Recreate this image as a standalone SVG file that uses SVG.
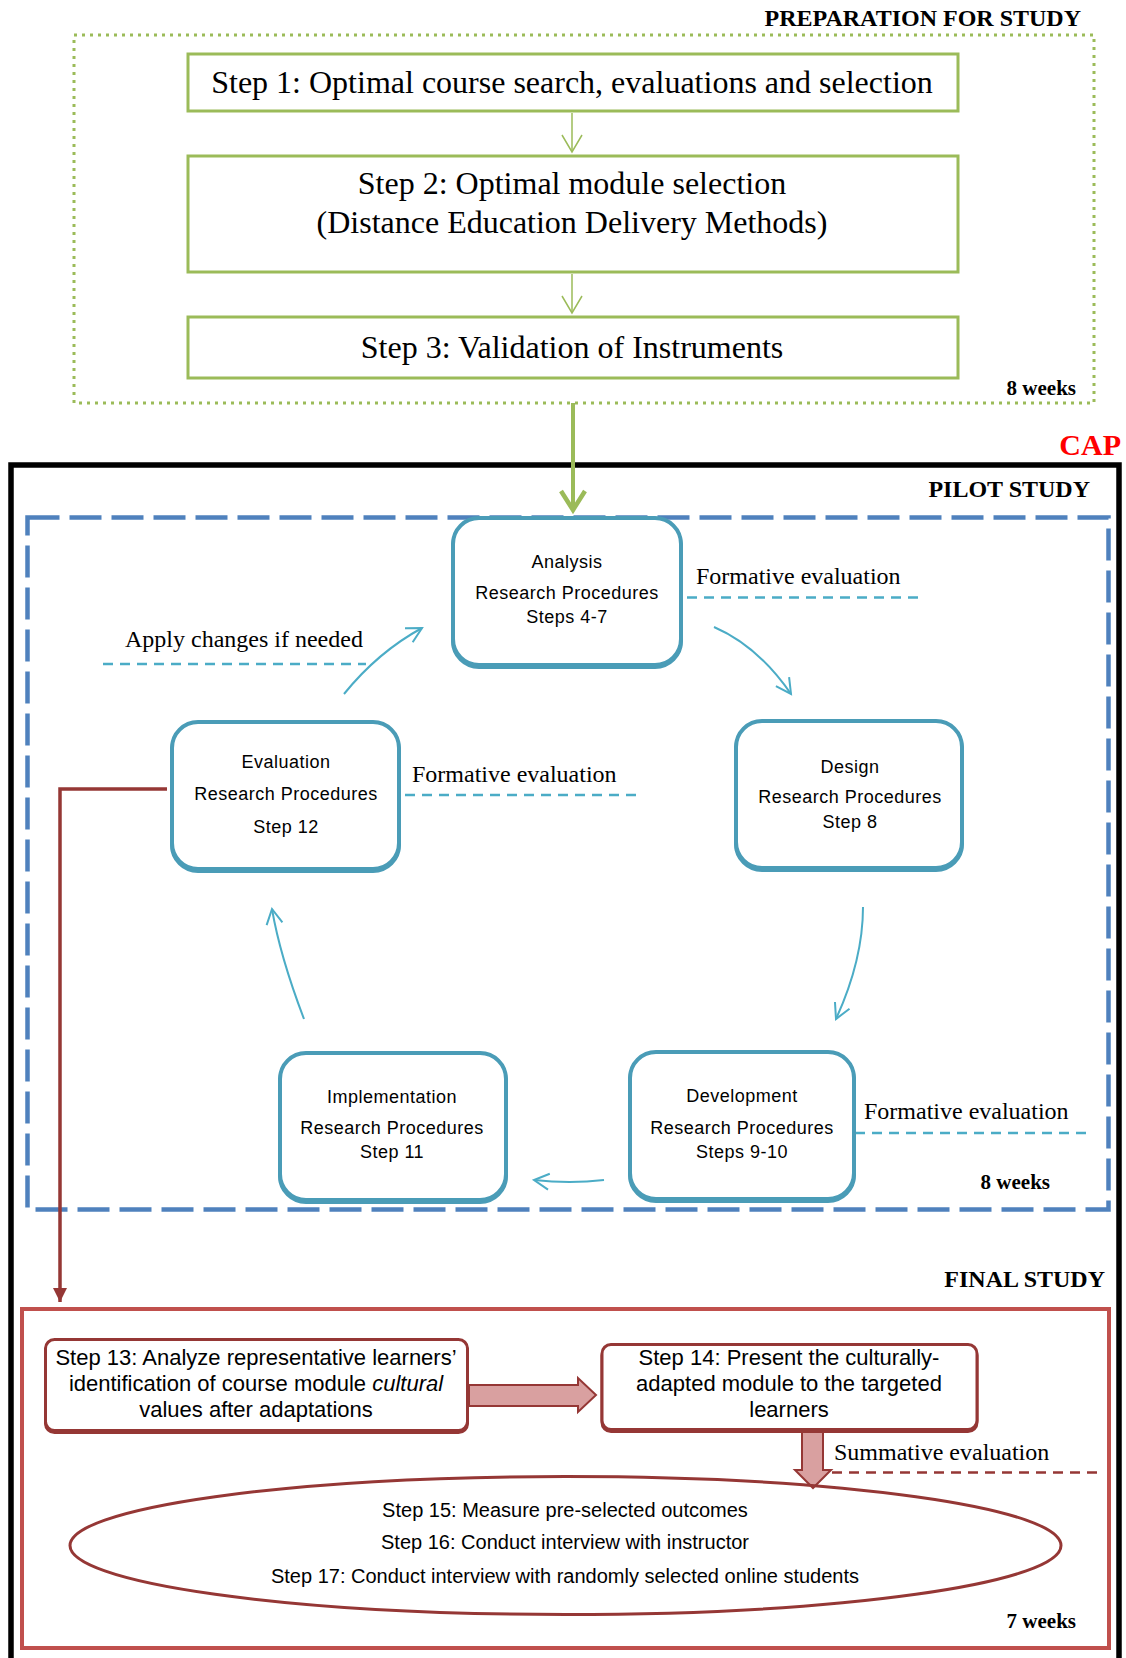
<svg xmlns="http://www.w3.org/2000/svg" width="1126" height="1658" viewBox="0 0 1126 1658">
  <style>
    .serif { font-family: "Liberation Serif", "Times New Roman", serif; fill: #000; }
    .bold { font-weight: bold; }
    .step { font-size: 32px; text-anchor: middle; }
    .note { font-size: 24px; }
    .hdr { font-size: 24px; font-weight: bold; text-anchor: end; }
    .weeks { font-size: 21px; font-weight: bold; text-anchor: end; }
    .sans { font-family: "Liberation Sans", Arial, sans-serif; fill: #000; text-anchor: middle; }
    .lbl { font-size: 18px; letter-spacing: 0.5px; }
    .fin { font-size: 22px; }
    .ell { font-size: 20px; }
    .gbox { fill: #fff; stroke: #9BBB59; stroke-width: 3; }
    .node { fill: #fff; stroke: #4A9CB7; stroke-width: 4; }
    .node-sh { fill: none; stroke: #4A9CB7; stroke-width: 4; }
    .rbox { fill: #fff; stroke: #953735; stroke-width: 3; }
    .rbox-sh { fill: none; stroke: #953735; stroke-width: 3; }
    .flow { fill: none; stroke: #4BACC6; stroke-width: 2; marker-end: url(#tealHead); }
    .tdash { fill: none; stroke: #4BACC6; stroke-width: 2.5; stroke-dasharray: 10 7; }
    .rdash { fill: none; stroke: #953735; stroke-width: 2.5; stroke-dasharray: 10 7; }
    .block { fill: #D9A0A0; stroke: #953735; stroke-width: 2; stroke-linejoin: miter; }
  </style>
  <defs>
    <marker id="greenThin" markerUnits="userSpaceOnUse" orient="auto" refX="0" refY="0" markerWidth="40" markerHeight="40" overflow="visible">
      <path d="M-17,-10 L0,0 L-17,10" fill="none" stroke="#9BBB59" stroke-width="1.5"/>
    </marker>
    <marker id="greenBig" markerUnits="userSpaceOnUse" orient="auto" refX="0" refY="0" markerWidth="40" markerHeight="40" overflow="visible">
      <path d="M-20,-12 L-1,0 L-20,12" fill="none" stroke="#9BBB59" stroke-width="4.5"/>
    </marker>
    <marker id="tealHead" markerUnits="userSpaceOnUse" orient="auto" refX="0" refY="0" markerWidth="40" markerHeight="40" overflow="visible">
      <path d="M-15,-8 L0,0 L-15,8" fill="none" stroke="#4BACC6" stroke-width="2"/>
    </marker>
    <marker id="redHead" markerUnits="userSpaceOnUse" orient="auto" refX="0" refY="0" markerWidth="40" markerHeight="40" overflow="visible">
      <path d="M-14,-7 L0,0 L-14,7 Z" fill="#953735"/>
    </marker>
  </defs>

  <rect width="1126" height="1658" fill="#fff"/>

  <!-- Frames and section headings -->
  <g id="frames">
    <rect x="74" y="35" width="1020" height="368" fill="none" stroke="#9BBB59" stroke-width="3" stroke-dasharray="3 5"/>
    <text class="serif hdr" x="1081" y="26">PREPARATION FOR STUDY</text>
    <text class="serif weeks" x="1076" y="395">8 weeks</text>

    <rect x="11" y="465" width="1108" height="1210" fill="none" stroke="#000" stroke-width="5.5"/>
    <text class="serif bold" x="1121" y="455" font-size="30" text-anchor="end" style="fill:#FF0000">CAP</text>
    <text class="serif hdr" x="1090" y="497">PILOT STUDY</text>

    <rect x="27.5" y="517.5" width="1081" height="692" fill="none" stroke="#4F81BD" stroke-width="4.5" stroke-dasharray="32 10"/>
    <text class="serif weeks" x="1050" y="1189">8 weeks</text>

    <text class="serif hdr" x="1105" y="1287">FINAL STUDY</text>
    <rect x="22" y="1309" width="1087" height="339" fill="none" stroke="#C0504D" stroke-width="4"/>
    <text class="serif weeks" x="1076" y="1628">7 weeks</text>
  </g>

  <!-- Connectors -->
  <g id="connectors">
    <line x1="572" y1="113" x2="572" y2="152" stroke="#9BBB59" stroke-width="1.5" marker-end="url(#greenThin)"/>
    <line x1="572" y1="274" x2="572" y2="313" stroke="#9BBB59" stroke-width="1.5" marker-end="url(#greenThin)"/>
    <line x1="573" y1="403" x2="573" y2="511" stroke="#9BBB59" stroke-width="4" marker-end="url(#greenBig)"/>

    <path class="flow" d="M714,627 Q758,646 791,694"/>
    <path class="flow" d="M863,907 Q863,960 836,1019"/>
    <path class="flow" d="M604,1180 Q570,1184 534,1180" stroke-width="3"/>
    <path class="flow" d="M304,1019 Q280,956 272,909"/>
    <path class="flow" d="M344,694 Q378,652 422,628"/>

    <polyline points="167,789 60,789 60,1302" fill="none" stroke="#953735" stroke-width="3.5" marker-end="url(#redHead)"/>

    <polygon class="block" points="469,1385 578,1385 578,1378 596,1395 578,1412 578,1406 469,1406"/>
    <polygon class="block" points="802,1431 823,1431 823,1470 831,1470 813,1488 795,1470 802,1470"/>

    <!-- evaluation labels with their dashed rules -->
    <text class="serif note" x="696" y="584">Formative evaluation</text>
    <line class="tdash" x1="687" y1="597.5" x2="923" y2="597.5"/>
    <text class="serif note" x="125" y="647">Apply changes if needed</text>
    <line class="tdash" x1="103" y1="664" x2="366" y2="664"/>
    <text class="serif note" x="412" y="782">Formative evaluation</text>
    <line class="tdash" x1="405" y1="795" x2="639" y2="795"/>
    <text class="serif note" x="864" y="1119">Formative evaluation</text>
    <line class="tdash" x1="855" y1="1133" x2="1090" y2="1133"/>
    <text class="serif note" x="834" y="1460">Summative evaluation</text>
    <line class="rdash" x1="832" y1="1472.5" x2="1098" y2="1472.5"/>
  </g>

  <!-- Preparation steps -->
  <g id="step1">
    <rect class="gbox" x="188" y="54" width="770" height="57"/>
    <text class="serif step" x="572" y="93">Step 1: Optimal course search, evaluations and selection</text>
  </g>
  <g id="step2">
    <rect class="gbox" x="188" y="156" width="770" height="116"/>
    <text class="serif step" x="572" y="194">Step 2: Optimal module selection</text>
    <text class="serif step" x="572" y="233">(Distance Education Delivery Methods)</text>
  </g>
  <g id="step3">
    <rect class="gbox" x="188" y="317" width="770" height="61"/>
    <text class="serif step" x="572" y="358">Step 3: Validation of Instruments</text>
  </g>

  <!-- Pilot study cycle -->
  <g id="analysis">
    <rect class="node-sh" x="453" y="520" width="228" height="147" rx="26"/>
    <rect class="node" x="453" y="518" width="228" height="147" rx="26"/>
    <text class="sans lbl" x="567" y="568">Analysis</text>
    <text class="sans lbl" x="567" y="599">Research Procedures</text>
    <text class="sans lbl" x="567" y="623">Steps 4-7</text>
  </g>
  <g id="design">
    <rect class="node-sh" x="736" y="723" width="226" height="147" rx="26"/>
    <rect class="node" x="736" y="721" width="226" height="147" rx="26"/>
    <text class="sans lbl" x="850" y="773">Design</text>
    <text class="sans lbl" x="850" y="803">Research Procedures</text>
    <text class="sans lbl" x="850" y="828">Step 8</text>
  </g>
  <g id="development">
    <rect class="node-sh" x="630" y="1054" width="224" height="147" rx="26"/>
    <rect class="node" x="630" y="1052" width="224" height="147" rx="26"/>
    <text class="sans lbl" x="742" y="1102">Development</text>
    <text class="sans lbl" x="742" y="1134">Research Procedures</text>
    <text class="sans lbl" x="742" y="1158">Steps 9-10</text>
  </g>
  <g id="implementation">
    <rect class="node-sh" x="280" y="1055" width="226" height="147" rx="26"/>
    <rect class="node" x="280" y="1053" width="226" height="147" rx="26"/>
    <text class="sans lbl" x="392" y="1103">Implementation</text>
    <text class="sans lbl" x="392" y="1134">Research Procedures</text>
    <text class="sans lbl" x="392" y="1158">Step 11</text>
  </g>
  <g id="evaluation">
    <rect class="node-sh" x="172" y="724" width="227" height="147" rx="26"/>
    <rect class="node" x="172" y="722" width="227" height="147" rx="26"/>
    <text class="sans lbl" x="286" y="768">Evaluation</text>
    <text class="sans lbl" x="286" y="800">Research Procedures</text>
    <text class="sans lbl" x="286" y="833">Step 12</text>
  </g>

  <!-- Final study -->
  <g id="step13">
    <rect class="rbox-sh" x="45.5" y="1341.5" width="422" height="91" rx="9"/>
    <rect class="rbox" x="45.5" y="1339.5" width="422" height="91" rx="9"/>
    <text class="sans fin" x="256" y="1365">Step 13: Analyze representative learners’</text>
    <text class="sans fin" x="256" y="1391">identification of course module <tspan font-style="italic">cultural</tspan></text>
    <text class="sans fin" x="256" y="1417">values after adaptations</text>
  </g>
  <g id="step14">
    <rect class="rbox-sh" x="602" y="1346.5" width="375" height="85" rx="9"/>
    <rect class="rbox" x="602" y="1344.5" width="375" height="85" rx="9"/>
    <text class="sans fin" x="789" y="1365">Step 14: Present the culturally-</text>
    <text class="sans fin" x="789" y="1391">adapted module to the targeted</text>
    <text class="sans fin" x="789" y="1417">learners</text>
  </g>
  <g id="steps15-17">
    <ellipse cx="565.5" cy="1545.5" rx="495.5" ry="69" fill="none" stroke="#953735" stroke-width="3"/>
    <text class="sans ell" x="565" y="1517">Step 15: Measure pre-selected outcomes</text>
    <text class="sans ell" x="565" y="1549">Step 16: Conduct interview with instructor</text>
    <text class="sans ell" x="565" y="1583">Step 17: Conduct interview with randomly selected online students</text>
  </g>
</svg>
